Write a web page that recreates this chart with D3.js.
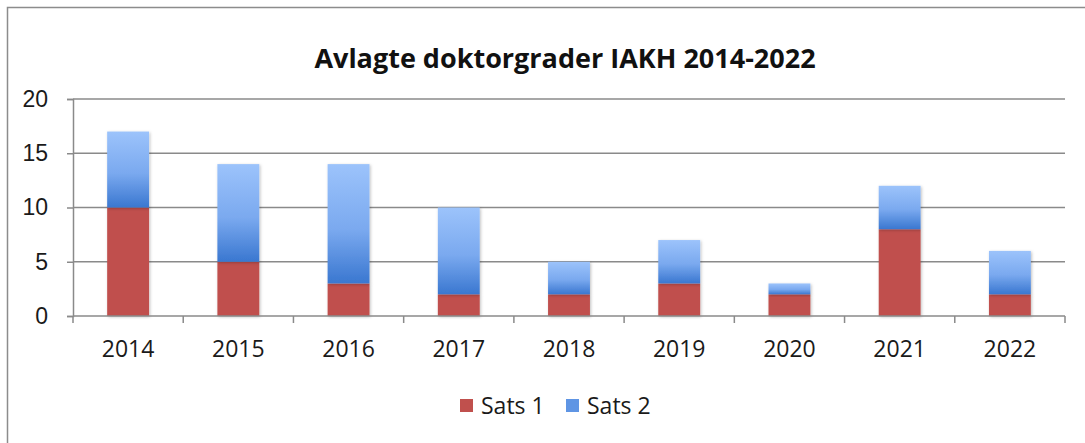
<!DOCTYPE html>
<html>
<head>
<meta charset="utf-8">
<script src="https://cdn.jsdelivr.net/npm/d3@7"></script>
<style>
  body { margin: 0; background: #fff; }
  svg { display: block; font-family: "Open Sans", "Noto Sans", sans-serif; }
</style>
</head>
<body>
<svg id="chart" width="1085" height="443"></svg>
<script>
// data
var years = ["2014", "2015", "2016", "2017", "2018", "2019", "2020", "2021", "2022"];
var sats1 = [10, 5, 3, 2, 2, 3, 2, 8, 2];
var sats2 = [7, 9, 11, 8, 3, 4, 1, 4, 4];
var seriesNames = ["Sats 1", "Sats 2"];
var yTicks = [0, 5, 10, 15, 20];

var svg = d3.select("#chart");
var margin = {top: 99, left: 73, right: 20, bottom: 127};
var width = 1065 - margin.left,
    height = 316 - margin.top;

// outer frame (only top/left visible)
svg.append("path")
    .attr("d", "M7.5,443 L7.5,7.5 L1085,7.5")
    .attr("fill", "none")
    .attr("stroke", "#8c8c8c")
    .attr("stroke-width", 1.5);

var defs = svg.append("defs");
var grad = defs.append("linearGradient")
    .attr("id", "blueGrad")
    .attr("x1", 0).attr("y1", 0).attr("x2", 0).attr("y2", 1);
grad.append("stop").attr("offset", "0%").attr("stop-color", "#9cc3fb");
grad.append("stop").attr("offset", "55%").attr("stop-color", "#7aa9ef");
grad.append("stop").attr("offset", "100%").attr("stop-color", "#3a77d0");

var filter = defs.append("filter").attr("id", "shadow")
    .attr("x", "-20%").attr("y", "-20%").attr("width", "140%").attr("height", "140%");
filter.append("feDropShadow")
    .attr("dx", 1).attr("dy", 1).attr("stdDeviation", 1.5)
    .attr("flood-color", "#000").attr("flood-opacity", 0.25);

var g = svg.append("g")
    .attr("transform", "translate(" + margin.left + "," + margin.top + ")");

var x = d3.scaleBand().domain(years).range([0, width]).paddingInner(0.62).paddingOuter(0.31);
var y = d3.scaleLinear().domain([0, 20]).range([height, 0]);

// gridlines
g.selectAll(".grid")
    .data(yTicks.filter(function (d) { return d > 0; }))
    .enter().append("line")
    .attr("x1", 0).attr("x2", width)
    .attr("y1", function (d) { return y(d); })
    .attr("y2", function (d) { return y(d); })
    .attr("stroke", "#8a8a8a")
    .attr("stroke-width", 1.5);

// stacked bars
var rows = years.map(function (yr, i) {
    return {year: yr, s1: sats1[i], s2: sats2[i]};
});
var stack = d3.stack().keys(["s1", "s2"])(rows);
var fills = ["#c0504d", "url(#blueGrad)"];

g.selectAll(".layer")
    .data(stack)
    .enter().append("g")
    .attr("fill", function (d, i) { return fills[i]; })
    .selectAll("rect")
    .data(function (d) { return d; })
    .enter().append("rect")
    .attr("x", function (d) { return x(d.data.year); })
    .attr("width", x.bandwidth())
    .attr("y", function (d) { return y(d[1]); })
    .attr("height", function (d) { return y(d[0]) - y(d[1]); })
    .attr("filter", "url(#shadow)");

// y axis
var yAxis = g.append("g")
    .call(d3.axisLeft(y).tickValues(yTicks).tickSize(6).tickPadding(19));
yAxis.select(".domain").attr("stroke", "#8a8a8a").attr("stroke-width", 1.5);
yAxis.selectAll(".tick line").attr("stroke", "#8a8a8a").attr("stroke-width", 1.5);
yAxis.selectAll("text").attr("font-size", 23).attr("fill", "#1a1a1a");

// x axis with ticks at category boundaries
var xAxis = g.append("g").attr("transform", "translate(0," + height + ")");
xAxis.append("line")
    .attr("x1", 0).attr("x2", width)
    .attr("stroke", "#8a8a8a").attr("stroke-width", 1.5);
var step = x.step();
xAxis.selectAll(".btick")
    .data(d3.range(years.length + 1))
    .enter().append("line")
    .attr("x1", function (d) { return d * step; })
    .attr("x2", function (d) { return d * step; })
    .attr("y1", 0).attr("y2", 7)
    .attr("stroke", "#8a8a8a").attr("stroke-width", 1.5);
xAxis.selectAll("text")
    .data(years)
    .enter().append("text")
    .attr("x", function (d) { return x(d) + x.bandwidth() / 2; })
    .attr("y", 41)
    .attr("text-anchor", "middle")
    .attr("font-size", 23)
    .attr("fill", "#1a1a1a")
    .text(function (d) { return d; });

// title
svg.append("text")
    .attr("x", 565)
    .attr("y", 68)
    .attr("text-anchor", "middle")
    .attr("font-size", 27)
    .attr("font-weight", "bold")
    .attr("fill", "#111")
    .text("Avlagte doktorgrader IAKH 2014-2022");

// legend
var legendColors = ["#c0504d", "#5f95e4"];
var legend = svg.append("g").attr("transform", "translate(460,399)");
var item = legend.selectAll("g")
    .data(seriesNames)
    .enter().append("g")
    .attr("transform", function (d, i) { return "translate(" + (i * 106) + ",0)"; });
item.append("rect")
    .attr("width", 13).attr("height", 13)
    .attr("fill", function (d, i) { return legendColors[i]; });
item.append("text")
    .attr("x", 21).attr("y", 7)
    .attr("dy", ".35em")
    .attr("font-size", 23)
    .attr("fill", "#1a1a1a")
    .text(function (d) { return d; });
</script>
</body>
</html>
